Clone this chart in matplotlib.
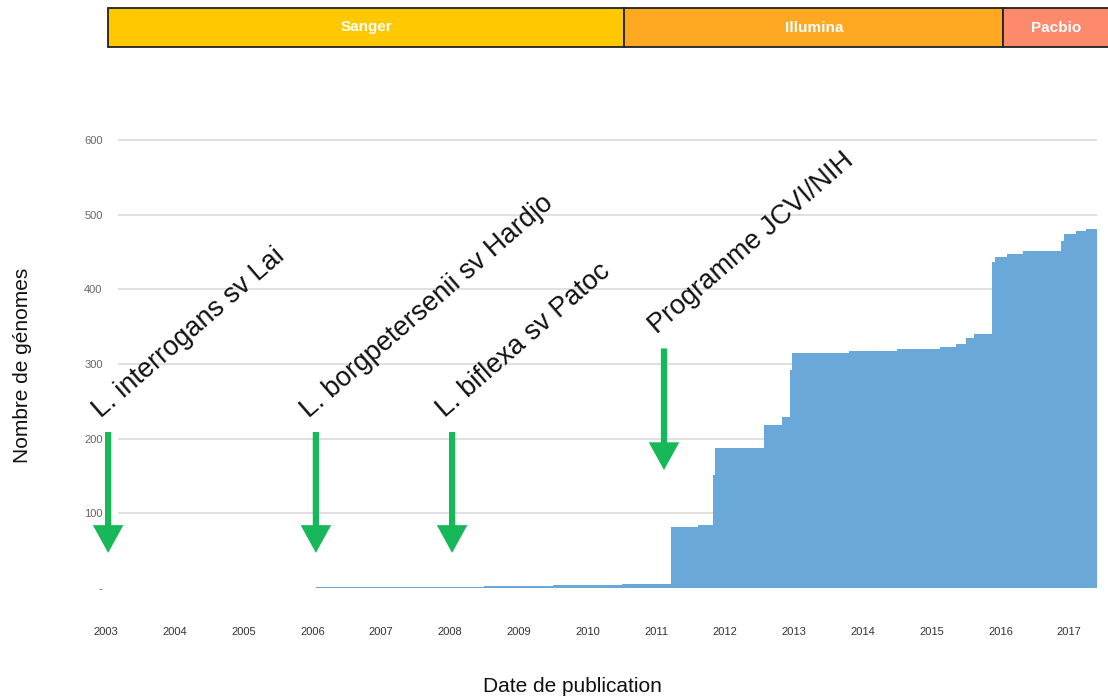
import matplotlib.pyplot as plt
from matplotlib.patches import Rectangle

plt.rcParams['font.family'] = ['Liberation Sans', 'DejaVu Sans']

# Cumulative number of published genomes (step curve)
dates = [2006.05, 2007.5, 2008.5, 2009.5, 2010.5, 2011.21, 2011.6, 2011.82,
         2011.85, 2012.56, 2012.83, 2012.94, 2012.97, 2013.8, 2014.5, 2015.12,
         2015.35, 2015.5, 2015.62, 2015.88, 2015.92, 2016.1, 2016.33, 2016.88,
         2016.92, 2017.1, 2017.25, 2017.404]
genomes = [1, 2, 3, 4, 5, 82, 84, 151,
           187, 218, 229, 292, 315, 317, 320, 323,
           327, 335, 340, 437, 443, 447, 451, 465,
           474, 478, 481, 481]

# Annotated milestones: label, date, arrow top, arrow tip
events = ['L. interrogans sv Lai', 'L. borgpetersenii sv Hardjo',
          'L. biflexa sv Patoc', 'Programme JCVI/NIH']
event_dates = [2003.03, 2006.05, 2008.03, 2011.11]
arrow_top = [209, 209, 209, 321]
arrow_tip = [47, 47, 47, 158]

# Sequencing technology eras
eras = ['Sanger', 'Illumina', 'Pacbio']
era_start = [2003.03, 2010.53, 2016.04]
era_end = [2010.53, 2016.04, 2017.8]
era_colors = ['#ffc800', '#ffa822', '#fd8a6c']

years = list(range(2003, 2018))
y_ticks = [0, 100, 200, 300, 400, 500, 600]
y_labels = ['-', '100', '200', '300', '400', '500', '600']

fig = plt.figure(figsize=(11.08, 6.99), dpi=100)
W, H = 1108, 699

# main chart
ax = fig.add_axes([104 / W, 1 - 588 / H, 993 / W, 459 / H])
ax.set_xlim(2002.97, 2017.404)
ax.set_ylim(0, 615)
ax.hlines(y_ticks[1:], 2003.17, 2017.404, color='#dcdcdc', lw=1.2, zorder=0)
ax.fill_between(dates, genomes, step='post', color='#6aa8d9', lw=0, zorder=2)

for label, d, top, tip in zip(events, event_dates, arrow_top, arrow_tip):
    ax.annotate('', xy=(d, tip), xytext=(d, top),
                arrowprops=dict(arrowstyle='simple,head_width=2.2,head_length=2.0,tail_width=0.45',
                                mutation_scale=10, color='#17b85a', lw=0,
                                shrinkA=0, shrinkB=0), zorder=3)
    ax.annotate(label, xy=(d, top), xytext=(-3, 9), textcoords='offset pixels',
                rotation=41, rotation_mode='anchor', ha='left', va='bottom',
                fontsize=19.5, color='#111111', zorder=4)

ax.set_xticks(years)
ax.set_xticklabels([str(y) for y in years], fontsize=8, color='#333333')
ax.set_yticks(y_ticks)
ax.set_yticklabels(y_labels, fontsize=8, color='#666666')
ax.tick_params(axis='x', length=0, pad=28)
ax.tick_params(axis='y', length=0, pad=1)
for s in ax.spines.values():
    s.set_visible(False)

fig.text(572 / W, 1 - 686 / H, 'Date de publication', ha='center', va='center',
         fontsize=15, color='#111111')
fig.text(23 / W, 1 - 365 / H, 'Nombre de génomes', ha='center', va='center',
         rotation=90, fontsize=15, color='#111111')

# technology bar on top
bar = fig.add_axes([108 / W, 1 - 47 / H, 1002 / W, 39 / H])
bar.set_xlim(2003.03, 2017.59)
bar.set_ylim(0, 1)
bar.axis('off')
for name, a, b, c in zip(eras, era_start, era_end, era_colors):
    bar.add_patch(Rectangle((a, 0.01), b - a, 0.98, facecolor=c, edgecolor='#222222',
                            lw=1.3, clip_on=False))
    bar.text((a + min(b, 2017.56)) / 2, 0.5, name, ha='center', va='center',
             color='white', fontsize=11, fontweight='bold')

fig.savefig('out.png', dpi=100)
